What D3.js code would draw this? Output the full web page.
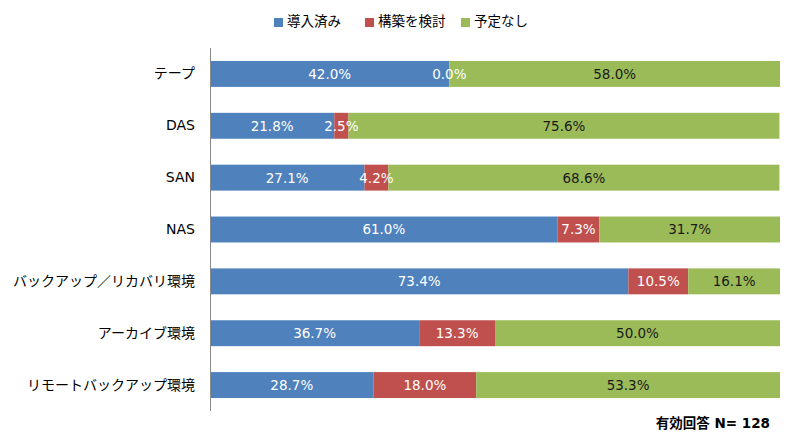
<!DOCTYPE html>
<html>
<head>
<meta charset="utf-8">
<script src="https://cdn.jsdelivr.net/npm/d3@7"></script>
<style>
  body { margin: 0; background: #fff; }
  text { font-family: "DejaVu Sans", "Noto Sans CJK JP", sans-serif; }
  .jp { font-family: "Noto Sans CJK JP", sans-serif; }
</style>
</head>
<body>
<div id="vis"></div>
<script>
var categories = ['テープ', 'DAS', 'SAN', 'NAS', 'バックアップ／リカバリ環境', 'アーカイブ環境', 'リモートバックアップ環境'];
var seriesNames = ['導入済み', '構築を検討', '予定なし'];
var introduced = [42.0, 21.8, 27.1, 61.0, 73.4, 36.7, 28.7];
var considering = [0.0, 2.5, 4.2, 7.3, 10.5, 13.3, 18.0];
var noPlan = [58.0, 75.6, 68.6, 31.7, 16.1, 50.0, 53.3];
var note = '有効回答 N= 128';

var colors = ['#4F81BD', '#C0504D', '#9BBB59'];
var labelColors = ['#ffffff', '#ffffff', '#1a1a1a'];

var W = 800, H = 448;
var margin = {left: 210, right: 20, top: 48, bottom: 37};

var svg = d3.select('#vis')
    .append('svg')
        .attr('width', W)
        .attr('height', H);

var rows = categories.map((c, i) => ({cat: c, values: [introduced[i], considering[i], noPlan[i]]}));

var x = d3.scaleLinear()
    .domain([0, 100])
    .range([margin.left, W - margin.right]);

var y = d3.scaleBand()
    .domain(categories)
    .range([margin.top, H - margin.bottom])
    .paddingInner(0.5)
    .paddingOuter(0.25);

// segments
rows.forEach(r => {
    var start = 0;
    r.segs = r.values.map((v, k) => {
        var s = {cat: r.cat, k: k, v: v, x0: start, x1: start + v};
        start += v;
        return s;
    });
});
var segs = rows.flatMap(r => r.segs);

svg.append('g')
    .selectAll('rect')
    .data(segs)
    .enter()
    .append('rect')
        .attr('x', d => x(d.x0))
        .attr('y', d => y(d.cat))
        .attr('width', d => x(d.x1) - x(d.x0))
        .attr('height', y.bandwidth())
        .attr('fill', d => colors[d.k]);

svg.append('g')
    .selectAll('text')
    .data(segs)
    .enter()
    .append('text')
        .attr('x', d => (x(d.x0) + x(d.x1)) / 2)
        .attr('y', d => y(d.cat) + y.bandwidth() / 2)
        .attr('dy', '0.36em')
        .attr('text-anchor', 'middle')
        .attr('font-size', 13.5)
        .attr('fill', d => labelColors[d.k])
        .text(d => d.v.toFixed(1) + '%');

// vertical axis
var yAxis = svg.append('g')
    .attr('transform', 'translate(' + margin.left + ',0)')
    .call(d3.axisLeft(y).tickSize(0).tickPadding(15));
yAxis.select('.domain').attr('stroke', '#888').attr('d', 'M0.5,' + margin.top + 'V' + (H - margin.bottom));
yAxis.selectAll('text')
    .attr('font-size', 14)
    .attr('fill', '#000');

// legend
var legendX = [274, 365, 461];
var legend = svg.append('g')
    .selectAll('g')
    .data(seriesNames)
    .enter()
    .append('g')
        .attr('transform', (d, i) => 'translate(' + legendX[i] + ',18)');
legend.append('rect')
    .attr('width', 9)
    .attr('height', 9)
    .attr('fill', (d, i) => colors[i]);
legend.append('text')
    .attr('class', 'jp')
    .attr('x', 13)
    .attr('y', 8)
    .attr('font-size', 13.5)
    .attr('fill', '#000')
    .text(d => d);

svg.append('text')
    .attr('x', 770)
    .attr('y', 428)
    .attr('text-anchor', 'end')
    .attr('font-size', 13.5)
    .attr('font-weight', 'bold')
    .attr('fill', '#000')
    .text(note);
</script>
</body>
</html>
